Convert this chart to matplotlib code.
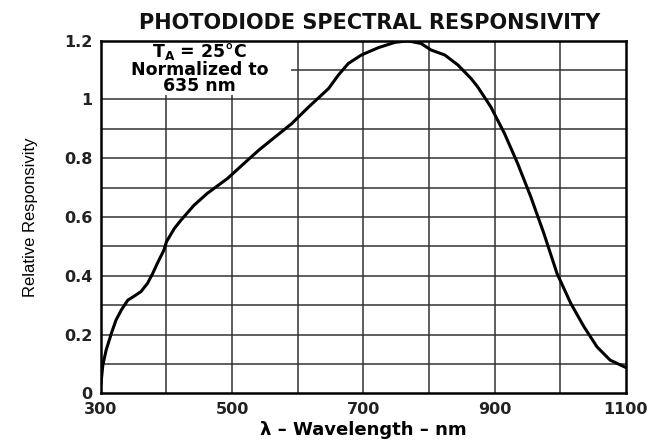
import matplotlib
matplotlib.use('Agg')
import matplotlib.pyplot as plt
from matplotlib.patches import Rectangle
import numpy as np

# wavelength (nm) and relative responsivity
wavelength = [300, 303, 308, 316, 323, 331, 341, 351, 361, 371, 379, 386, 396, 400,
              412, 422, 442, 462, 493, 523, 541, 566, 591, 617, 647, 662, 677, 697,
              723, 748, 768, 788, 803, 824, 844, 864, 874, 894, 915, 935, 955, 975,
              995, 1016, 1036, 1056, 1076, 1100]
responsivity = [0.03, 0.096, 0.147, 0.204, 0.249, 0.283, 0.317, 0.331, 0.346, 0.374,
                0.408, 0.442, 0.487, 0.516, 0.561, 0.589, 0.64, 0.68, 0.731, 0.792,
                0.828, 0.873, 0.918, 0.975, 1.037, 1.083, 1.122, 1.151, 1.176, 1.194,
                1.199, 1.19, 1.168, 1.151, 1.117, 1.071, 1.043, 0.975, 0.884, 0.782,
                0.669, 0.544, 0.408, 0.306, 0.227, 0.158, 0.113, 0.088]

x_ticks = [300, 500, 700, 900, 1100]
y_ticks = [0, 0.2, 0.4, 0.6, 0.8, 1.0, 1.2]
y_tick_labels = ['0', '0.2', '0.4', '0.6', '0.8', '1', '1.2']

fig = plt.figure(figsize=(6.68, 4.41), dpi=100)
ax = fig.add_axes([0.151, 0.108, 0.786, 0.800])

ax.plot(wavelength, responsivity, color='black', lw=2.2, zorder=4,
        solid_capstyle='round', solid_joinstyle='round')

ax.set_xlim(300, 1100)
ax.set_ylim(0, 1.2)

# grid every 100 nm and every 0.1
for xv in np.arange(400, 1100, 100):
    ax.axvline(xv, color='#333333', lw=1.1, zorder=1)
for yv in np.arange(0.1, 1.2, 0.1):
    ax.axhline(yv, color='#333333', lw=1.1, zorder=1)

# white area behind the condition note
ax.add_patch(Rectangle((300, 1.015), 290, 0.185, facecolor='white', edgecolor='none', zorder=2))

ax.set_xticks(x_ticks)
ax.set_yticks(y_ticks)
ax.set_yticklabels(y_tick_labels)
ax.tick_params(length=0, pad=6, labelsize=11.5)
for lbl in ax.get_xticklabels() + ax.get_yticklabels():
    lbl.set_fontweight('bold')
    lbl.set_color('#222222')

for sp in ax.spines.values():
    sp.set_linewidth(1.8)
    sp.set_zorder(5)

ax.text(450, 1.198, 'T$_\\mathbf{A}$ = 25°C\nNormalized to\n635 nm', ha='center', va='top',
        fontsize=12.5, fontweight='bold', linespacing=0.9, zorder=3)

fig.text(0.553, 0.948, 'PHOTODIODE SPECTRAL RESPONSIVITY', ha='center', va='center',
         fontsize=15, fontweight='bold', color='#111111')
ax.set_xlabel('λ – Wavelength – nm', fontsize=13, fontweight='bold', labelpad=3)
ax.set_ylabel('Relative Responsivity', family=['Liberation Sans', 'DejaVu Sans'],
              fontsize=12, labelpad=19)

fig.savefig('out.png', dpi=100)
